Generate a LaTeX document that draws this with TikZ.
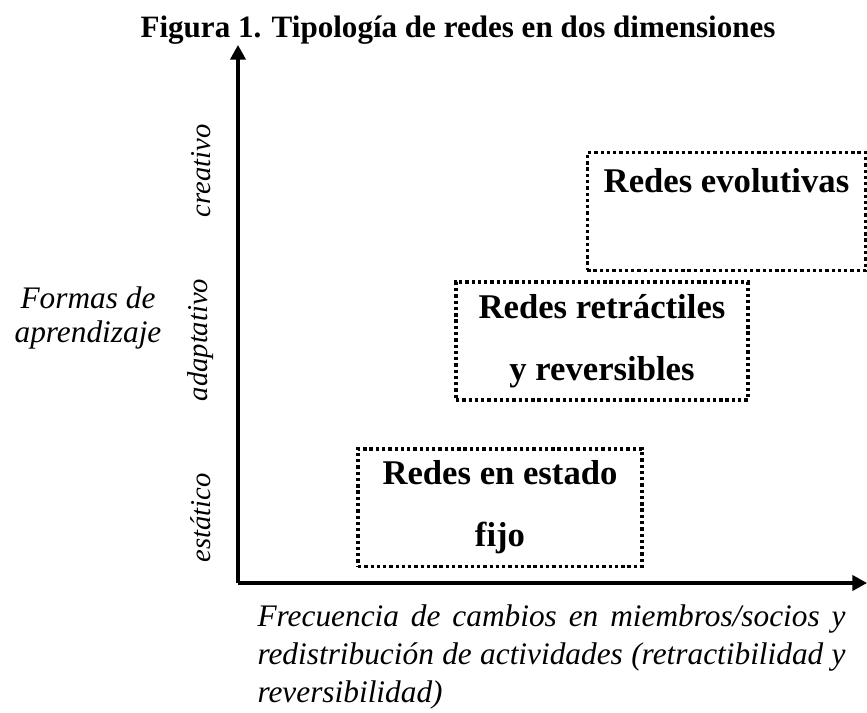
\documentclass[tikz,border=0pt]{standalone}
\usepackage{fontspec}
\setmainfont{Liberation Serif}
\usetikzlibrary{arrows.meta}
\usetikzlibrary{positioning}

\begin{document}
\begin{tikzpicture}[x=0.75pt, y=-0.75pt,
  netbox/.style={
    % The shape:
    rectangle,
    inner sep=0pt,
    % The border:
    line width=2.5pt,
    dash pattern=on 2.5pt off 2.2pt,
    draw=black,
    % Font
    font=\fontsize{26}{46.5}\selectfont\bfseries,
    align = center % required if you use new line
  },
  level/.style={rotate=90, font=\fontsize{21.5}{24}\selectfont\itshape},
  axis/.style={line width=2.3pt, -{Triangle[width=11.5pt,length=11pt]}},
  thick, black, text=black]

  \useasboundingbox (0,0) rectangle (867,713);

  \node (title) at (458,30) {\fontsize{23.3}{26}\selectfont\bfseries Figura 1. Tipología de redes en dos dimensiones};

  \coordinate (origin) at (238,583);
  \coordinate (ytip) at (238,45);
  \coordinate (xtip) at (867,583);
  \draw[axis] (origin) -- (ytip);
  \draw[axis] (origin) -- (xtip);

  \node (creativo) [level] at (201,171) {creativo};
  \node (adaptativo) [level] at (201,340) {adaptativo};
  \node (estatico) [level] at (201,518) {estático};

  \node (formas) [align=center, font=\fontsize{23.5}{25}\selectfont\itshape] at (88,318) {Formas de\\aprendizaje};

  \node (frecuencia) [anchor=north west, inner sep=0pt, text width=441pt, align=justify,
    font=\fontsize{23.5}{28.5}\selectfont\itshape] at (257,604)
    {Frecuencia de cambios en miembros/socios y redistribución de actividades (retractibilidad y reversibilidad)};

  \node (evolutivas) [netbox, minimum width=209pt, minimum height=88pt] at (726.5,211.5) {Redes evolutivas\\ ~};
  \node (retractiles) [netbox, minimum width=219pt, minimum height=88.5pt] at (602,341) {Redes retráctiles\\y reversibles};
  \node (fijo) [netbox, minimum width=213pt, minimum height=88pt] at (500,507.5) {Redes en estado\\fijo};
\end{tikzpicture}
\end{document}
